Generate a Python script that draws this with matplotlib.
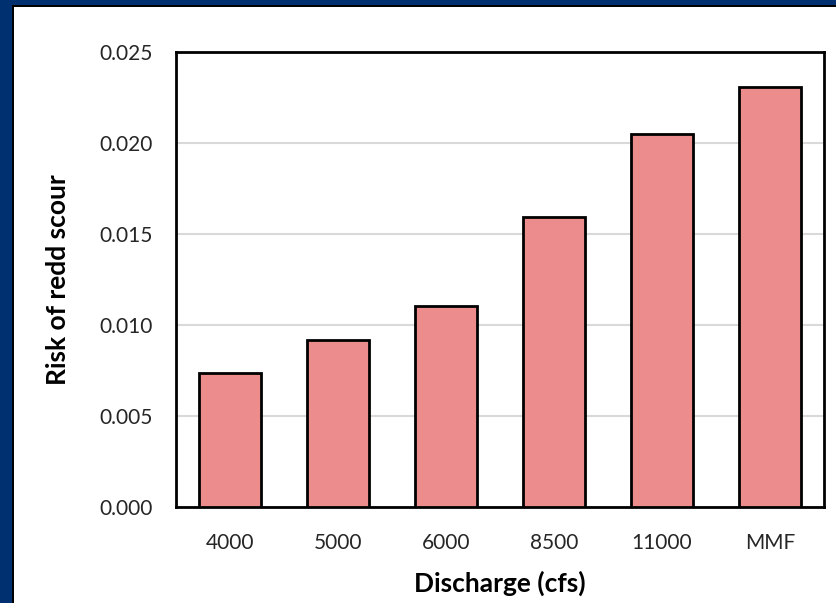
import numpy as np
import matplotlib
matplotlib.use("Agg")
import matplotlib.pyplot as plt
from matplotlib.patches import Rectangle

# values
categories = ['4000', '5000', '6000', '8500', '11000', 'MMF']
risk = [0.00736, 0.00918, 0.01104, 0.01593, 0.02049, 0.02308]
yticks = [0.000, 0.005, 0.010, 0.015, 0.020, 0.025]

plt.rcParams['font.family'] = ['Lato', 'DejaVu Sans']

W, H = 836, 603
fig = plt.figure(figsize=(W / 100, H / 100), dpi=100)

# dark blue frame on the left and top, with a thin black inner line
fig.patches.append(Rectangle((0, 0), 12 / W, 1, transform=fig.transFigure,
                             facecolor='#003070', linewidth=0, zorder=0))
fig.patches.append(Rectangle((0, 1 - 5 / H), 1, 5 / H, transform=fig.transFigure,
                             facecolor='#003070', linewidth=0, zorder=0))
fig.patches.append(Rectangle((12 / W, 0), 2 / W, 1 - 5 / H, transform=fig.transFigure,
                             facecolor='black', linewidth=0, zorder=1))
fig.patches.append(Rectangle((12 / W, 1 - 7 / H), 1 - 12 / W, 2 / H,
                             transform=fig.transFigure, facecolor='black',
                             linewidth=0, zorder=1))

ax = fig.add_axes([176 / W, 1 - 507 / H, (824 - 176) / W, (507 - 52) / H])
x = np.arange(len(categories))
ax.bar(x, risk, width=0.58, color='#EC8C8C', edgecolor='black', linewidth=2, zorder=3)

ax.set_xlim(-0.5, len(categories) - 0.5)
ax.set_ylim(0, 0.025)
ax.set_yticks(yticks)
ax.set_yticklabels([f'{v:.3f}' for v in yticks])
ax.set_xticks(x)
ax.set_xticklabels(categories)
ax.tick_params(length=0, labelsize=15, colors='#262626')
ax.tick_params(axis='y', pad=17)
ax.tick_params(axis='x', pad=19)
ax.grid(axis='y', color='#d9d9d9', linewidth=1.5, zorder=0)
for s in ax.spines.values():
    s.set_linewidth(2)
    s.set_color('black')

ax.set_xlabel('Discharge (cfs)', fontsize=19, fontweight='bold', va='center')
ax.xaxis.set_label_coords(0.5, (507 - 583) / 455)
ax.set_ylabel('Risk of redd scour', fontsize=19, fontweight='bold',
              va='center', ha='center')
ax.yaxis.set_label_coords((58 - 176) / 648, 0.5)

fig.savefig('out.png', dpi=100)
